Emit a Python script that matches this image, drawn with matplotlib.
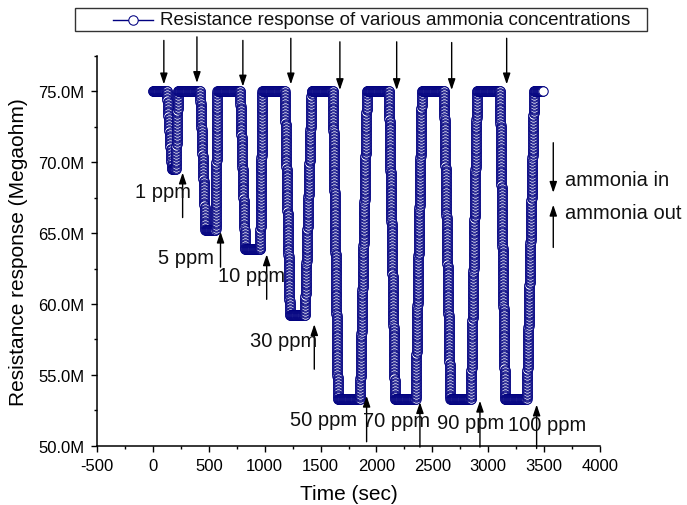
import matplotlib
matplotlib.use('Agg')
import matplotlib.pyplot as plt
import numpy as np
from matplotlib.patheffects import AbstractPathEffect
from matplotlib.path import Path
from matplotlib.transforms import Affine2D
from matplotlib.ticker import MultipleLocator, FuncFormatter
from matplotlib.lines import Line2D
from matplotlib.patches import Rectangle, ArrowStyle

plt.rcParams['font.family'] = ['Liberation Sans', 'DejaVu Sans']
plt.rcParams['axes.unicode_minus'] = False

# resistance trace, corner points of each exposure cycle (s, Mohm)
time_s = [0, 125, 170, 205, 225,
          422, 470, 560, 578,
          780, 825, 960, 980,
          1180, 1225, 1360, 1420,
          1610, 1655, 1853, 1915,
          2112, 2165, 2350, 2406,
          2604, 2660, 2845, 2900,
          3105, 3150, 3345, 3410, 3488]
resistance = [75.0, 75.0, 69.5, 69.5, 75.0,
              75.0, 65.2, 65.2, 75.0,
              75.0, 63.85, 63.85, 75.0,
              75.0, 59.25, 59.25, 75.0,
              75.0, 53.3, 53.3, 75.0,
              75.0, 53.3, 53.3, 75.0,
              75.0, 53.3, 53.3, 75.0,
              75.0, 53.3, 53.3, 75.0, 75.0]

conc_labels = ['1 ppm', '5 ppm', '10 ppm', '30 ppm', '50 ppm', '70 ppm', '90 ppm', '100 ppm']
label_t = [-160, 46, 584, 868, 1226, 1879, 2538, 3179]
label_r = [67.94, 63.29, 62.0, 57.4, 51.88, 51.76, 51.67, 51.53]

# gas switched on (arrows from above)
gas_in_t = [98, 394, 805, 1234, 1673, 2181, 2673, 3165]
gas_in_from = [78.6, 78.85, 78.6, 78.75, 78.5, 78.5, 78.45, 78.75]
gas_in_to = [75.5, 75.6, 75.35, 75.5, 75.1, 75.1, 75.1, 75.5]

# gas switched off (arrows from below)
gas_out_t = [266, 605, 1018, 1444, 1912, 2389, 2926, 3433]
gas_out_from = [66.1, 62.6, 60.33, 55.4, 50.28, 49.9, 49.9, 49.8]
gas_out_to = [69.27, 65.1, 63.5, 58.57, 53.52, 53.07, 53.17, 52.9]

NAVY = '#000080'


class RingTrail(AbstractPathEffect):
    """Stamp open circles along a path, like a densely sampled scatter-line."""

    def __init__(self, size=6.8, step_x=0.25, step_y=1.05, lw=0.75, color=NAVY):
        super().__init__()
        self.size = size
        self.step_x = step_x
        self.step_y = step_y
        self.lw = lw
        self.color = color

    def draw_path(self, renderer, gc, tpath, affine, rgbFace=None):
        pts = affine.transform(tpath.vertices)
        sx = renderer.points_to_pixels(self.step_x)
        sy = renderer.points_to_pixels(self.step_y)
        centers = [pts[:1]]
        for a, b in zip(pts[:-1], pts[1:]):
            n = int(max(abs(b[0] - a[0]) / sx, abs(b[1] - a[1]) / sy, 1))
            f = np.arange(1, n + 1)[:, None] / n
            centers.append(a + f * (b - a))
        centers = np.vstack(centers)
        r = renderer.points_to_pixels(self.size) / 2
        gc0 = renderer.new_gc()
        gc0.copy_properties(gc)
        gc0.set_foreground(self.color)
        gc0.set_linewidth(self.lw)
        gc0.set_dashes(0, None)
        renderer.draw_markers(gc0, Path.unit_circle(), Affine2D().scale(r),
                              Path(centers), Affine2D(), (1.0, 1.0, 1.0, 1.0))
        gc0.restore()


fig = plt.figure(figsize=(6.87, 5.06), dpi=100)
W, H = 687.0, 506.0
ax = fig.add_axes([97 / W, 1 - 446.7 / H, 503 / W, 389.7 / H])

ax.plot(time_s, resistance, color=NAVY, lw=1, path_effects=[RingTrail()])

ax.set_xlim(-500, 4000)
ax.set_ylim(50, 77.5)
ax.xaxis.set_major_locator(MultipleLocator(500))
ax.xaxis.set_minor_locator(MultipleLocator(250))
ax.yaxis.set_major_locator(MultipleLocator(5))
ax.yaxis.set_minor_locator(MultipleLocator(2.5))
ax.yaxis.set_major_formatter(FuncFormatter(lambda v, p: f'{v:.1f}M'))

for s in ['top', 'right']:
    ax.spines[s].set_visible(False)
for s in ['left', 'bottom']:
    ax.spines[s].set_linewidth(1.1)
ax.tick_params(which='major', direction='out', length=4.5, width=1.0, labelsize=12, pad=4.5)
ax.tick_params(which='minor', direction='out', length=2.5, width=1.0)

ax.set_xlabel('Time (sec)', fontsize=15, labelpad=8)
ax.set_ylabel('Resistance response (Megaohm)', fontsize=15, labelpad=7.5)

head = ArrowStyle('-|>', head_length=0.65, head_width=0.22)
arrow_kw = dict(arrowstyle=head, color='black', lw=1.0, mutation_scale=10,
                shrinkA=0, shrinkB=0)

for t, r0, r1 in zip(gas_in_t, gas_in_from, gas_in_to):
    ax.annotate('', xy=(t, r1), xytext=(t, r0), arrowprops=arrow_kw,
                annotation_clip=False)
for t, r0, r1 in zip(gas_out_t, gas_out_from, gas_out_to):
    ax.annotate('', xy=(t, r1), xytext=(t, r0), arrowprops=arrow_kw,
                annotation_clip=False)

for txt, t, r in zip(conc_labels, label_t, label_r):
    ax.text(t, r, txt, fontsize=14.5, ha='left', va='center', color='#111111')

# key for the arrow directions
ax.annotate('', xy=(3582, 67.85), xytext=(3582, 71.38), arrowprops=arrow_kw,
            annotation_clip=False)
ax.annotate('', xy=(3582, 67.0), xytext=(3582, 63.99), arrowprops=arrow_kw,
            annotation_clip=False)
ax.text(3687, 68.78, 'ammonia in', fontsize=14.5, ha='left', va='center',
        color='#111111', clip_on=False)
ax.text(3687, 66.46, 'ammonia out', fontsize=14.5, ha='left', va='center',
        color='#111111', clip_on=False)

# series legend above the plot
fig.add_artist(Rectangle((75 / W, 1 - 32 / H), 572 / W, 23 / H,
                         transform=fig.transFigure, fill=False,
                         edgecolor='#333333', lw=1.0))
fig.add_artist(Line2D([113 / W, 153 / W], [1 - 20.5 / H, 1 - 20.5 / H],
                      transform=fig.transFigure, color=NAVY, lw=1.0))
fig.add_artist(Line2D([133 / W], [1 - 20.5 / H], transform=fig.transFigure,
                      marker='o', ms=6.8, mfc='white', mec=NAVY, mew=0.75,
                      linestyle='none'))
fig.text(160 / W, 1 - 20.5 / H, 'Resistance response of various ammonia concentrations',
         fontsize=13.5, ha='left', va='center', color='#111111')

fig.savefig('out.png', dpi=100)
